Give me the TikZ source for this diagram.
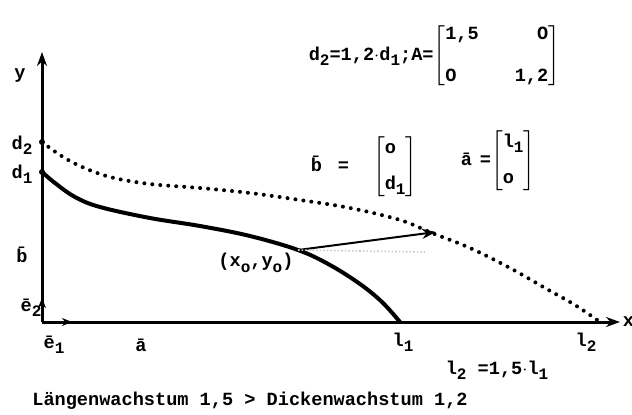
\documentclass[tikz,border=0pt]{standalone}
\usepackage{fontspec}
\setmonofont{Liberation Mono}
\usetikzlibrary{positioning,arrows.meta}
\newcommand{\lowix}[1]{\raisebox{-0.55ex}{\footnotesize #1}}
\tikzset{
  lbl/.style={font=\ttfamily\bfseries\fontsize{9.3}{10}\selectfont, inner sep=1pt},
  curvebold/.style={line width=2pt, line cap=round},
  curvedot/.style={line width=2pt, line cap=round, dash pattern=on 0pt off 4pt},
}
\begin{document}
\begin{tikzpicture}[x=0.5pt,y=-0.5pt,>={Stealth[length=7pt,width=5pt]},thick]
  \useasboundingbox (0,0) rectangle (632,414);
  % axes
  \coordinate (orig) at (42,322);
  \coordinate (ytop) at (42,52);
  \coordinate (xend) at (620,322);
  \draw[->, line width=1.5pt] (orig) -- (ytop);
  \draw[->, line width=1.5pt] (orig) -- (xend);
  \node (ylab) [lbl] at (20,76) {y};
  \node (xlab) [lbl, right=0pt of xend] {x};
  % unit vectors
  \coordinate (etwo) at (42,298);
  \coordinate (eone) at (72,322);
  \draw[->, line width=1pt, >={Stealth[length=5pt,width=4pt]}] (orig) -- (etwo);
  \draw[->, line width=1pt, >={Stealth[length=5pt,width=4pt]}] (orig) -- (eone);
  \node (etwolab) [lbl] at (31,308) {\=e\lowix{2}};
  \node (eonelab) [lbl] at (54,345) {\=e\lowix{1}};
  \node (blab) [lbl] at (22,255) {\=b};
  \node (alab) [lbl] at (141,345) {\=a};
  % heights and lengths
  \coordinate (dtwo) at (42,142);
  \coordinate (done) at (42,172);
  \coordinate (lone) at (400,322);
  \coordinate (ltwo) at (600,322);
  \node (dtwolab) [lbl] at (22,145) {d\lowix{2}};
  \node (donelab) [lbl] at (22,174) {d\lowix{1}};
  \node (lonelab) [lbl] at (403,342) {l\lowix{1}};
  \node (ltwolab) [lbl] at (586,342) {l\lowix{2}};
  \fill (dtwo) circle (3);
  \fill (done) circle (3);
  % growth curves
  \draw[curvebold] plot[smooth, tension=0.6] coordinates {(42,172) (55,183) (75,197) (100,207) (150,218) (200,226) (250,236) (298,250) (330,265) (360,284) (382,302) (400,322)};
  \draw[curvedot] plot[smooth, tension=0.6] coordinates {(42,142) (60,155) (80,166) (110,177) (150,184) (200,188) (250,193) (300,200) (350,208) (400,220) (432,233) (470,248) (510,268) (545,288) (575,305) (600,322)};
  % mapped point
  \coordinate (pzero) at (298,250);
  \coordinate (pimg) at (436,232);
  \draw[->, line width=1pt] (pzero) -- (pimg);
  \draw[gray!40, densely dotted] (pzero) -- (425,252);
  \node (pzerolab) [lbl] at (256,263) {(x\lowix{o},y\lowix{o})};
  % formulas
  \node (defA) [lbl, anchor=west] at (306,56) {d\lowix{2}=1,2$\cdot$d\lowix{1};A=$\left[\begin{tabular}{@{}l@{\hspace{18pt}}r@{}}1,5 & O\\[11pt] O & 1,2\end{tabular}\right]$};
  \node (defb) [lbl, anchor=west] at (308,167) {\=b\hspace{8pt}=\hspace{12pt}$\left[\begin{tabular}{@{}l@{}}o\\[8pt] d\lowix{1}\end{tabular}\right]$};
  \node (defa) [lbl, anchor=west] at (458,161) {\=a\hspace{4pt}=$\left[\begin{tabular}{@{}l@{}}l\lowix{1}\\[8pt] o\end{tabular}\right]$};
  \node (defl) [lbl, anchor=west] at (443,370) {l\lowix{2} =1,5$\cdot$l\lowix{1}};
  \node (caption) [lbl] at (250,401) {Längenwachstum 1,5 > Dickenwachstum 1,2};
\end{tikzpicture}
\end{document}
